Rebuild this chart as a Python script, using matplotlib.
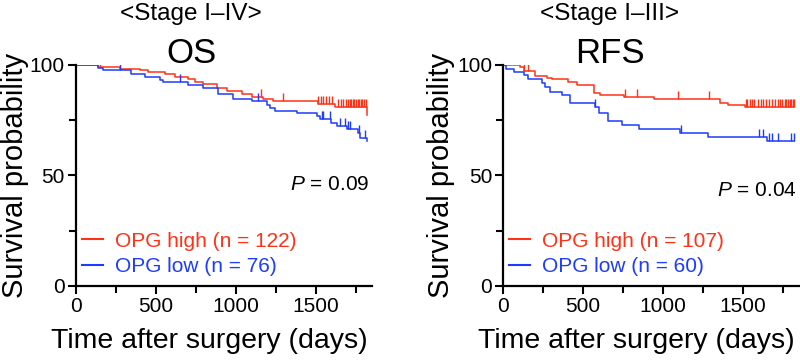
import numpy as np
from matplotlib import pyplot as plt
from matplotlib.ticker import MultipleLocator
from matplotlib.lines import Line2D

plt.rcParams['font.family'] = ['Liberation Sans', 'DejaVu Sans']
plt.rcParams['mathtext.fontset'] = 'custom'
plt.rcParams['mathtext.rm'] = 'Liberation Sans'
plt.rcParams['mathtext.it'] = 'Liberation Sans:italic'

red = '#ff3218'
blue = '#1e3cff'

# OS, stage I-IV  (step times in days, survival % after each step)
os_high_t = [0, 140, 275, 400, 450, 556, 619, 700, 744, 794, 881, 943, 1037, 1100, 1170, 1233, 1515, 1620, 1818]
os_high_s = [100, 99.2, 98.3, 97.7, 96.8, 95.8, 94.7, 93.5, 92.5, 91.2, 89.8, 88.0, 87.0, 85.6, 84.5, 83.7, 82.2, 81.2, 77.4]
os_high_cens = [108, 150, 1156, 1294, 1515, 1530, 1545, 1560, 1580, 1600, 1640, 1655, 1670, 1685, 1700,
                1710, 1720, 1730, 1740, 1750, 1760, 1770, 1780, 1790, 1800, 1810]
os_low_t = [0, 137, 170, 345, 431, 525, 545, 700, 794, 887, 981, 1100, 1192, 1212, 1244, 1380, 1505, 1525,
            1594, 1630, 1692, 1763, 1775, 1818]
os_low_s = [100, 98.6, 97.7, 95.9, 94.4, 93.2, 92.2, 90.8, 89.4, 87.0, 84.8, 83.7, 81.9, 80.7, 79.3, 78.1, 77.1,
            75.6, 73.9, 72.4, 70.9, 69.1, 67.1, 65.7]
os_low_cens = [275, 650, 1140, 1535, 1545, 1590, 1650, 1680, 1700, 1715, 1770, 1805]

# RFS, stage I-III
rfs_high_t = [0, 106, 127, 200, 273, 304, 408, 460, 565, 606, 752, 940, 1356, 1408, 1512]
rfs_high_s = [100, 99.2, 97.1, 95.0, 94.3, 93.5, 92.2, 90.8, 87.5, 86.3, 85.3, 84.5, 82.9, 81.9, 80.8]
rfs_high_cens = [127, 157, 763, 838, 1093, 1288, 1515, 1525, 1540, 1555, 1570, 1590, 1610, 1625, 1640, 1660,
                 1680, 1700, 1715, 1730, 1745, 1760, 1770, 1780, 1790, 1800, 1810, 1820]
rfs_low_t = [0, 20, 65, 127, 158, 242, 262, 294, 367, 419, 575, 596, 658, 742, 846, 1106, 1283, 1648]
rfs_low_s = [100, 98.3, 97.0, 95.5, 93.5, 91.7, 90.2, 87.9, 86.4, 82.9, 81.1, 78.1, 74.8, 72.9, 71.2, 69.1,
             67.3, 65.8]
rfs_low_cens = [575, 1110, 1600, 1625, 1660, 1680, 1720, 1800, 1815]

end_t = 1820


def km(ax, t, s, cens, color):
    tt = list(t) + [end_t]
    ss = list(s) + [s[-1]]
    ax.step(tt, ss, where='post', color=color, lw=1.1)
    idx = np.searchsorted(t, cens, side='right') - 1
    ax.plot(cens, np.array(s)[idx], ls='none', marker=2, ms=6, mew=1.0, color=color)


def style(ax, ylab_x):
    for side in ['top', 'right']:
        ax.spines[side].set_visible(False)
    for side in ['left', 'bottom']:
        ax.spines[side].set_linewidth(1.6)
    ax.set_xlim(0, 1850)
    ax.set_ylim(0, 100)
    ax.set_xticks([0, 500, 1000, 1500])
    ax.xaxis.set_minor_locator(MultipleLocator(250))
    ax.set_yticks([0, 50, 100])
    ax.yaxis.set_minor_locator(MultipleLocator(25))
    ax.tick_params(which='major', length=6, width=1.5, labelsize=15, pad=2)
    ax.tick_params(which='minor', length=5, width=1.5)
    ax.set_xlabel('Time after surgery (days)', fontsize=20.5)
    ax.xaxis.set_label_coords(0.45, -0.19)
    ax.set_ylabel('Survival probability', fontsize=21, va='center')
    ax.yaxis.set_label_coords(ylab_x, 0.5)


fig = plt.figure(figsize=[8, 3.61], dpi=100)
ax1 = fig.add_axes([0.095, 0.208, 0.37, 0.612])
ax2 = fig.add_axes([0.629, 0.208, 0.37, 0.612])

km(ax1, os_high_t, os_high_s, os_high_cens, red)
km(ax1, os_low_t, os_low_s, os_low_cens, blue)
km(ax2, rfs_high_t, rfs_high_s, rfs_high_cens, red)
km(ax2, rfs_low_t, rfs_low_s, rfs_low_cens, blue)

for ax, nh, nl, p, py, yx in [(ax1, 122, 76, '0.09', 0.457, -0.205), (ax2, 107, 60, '0.04', 0.434, -0.21)]:
    style(ax, yx)
    handles = [Line2D([], [], color=red, lw=1.5), Line2D([], [], color=blue, lw=1.5)]
    ax.legend(handles, [f'OPG high (n = {nh})', f'OPG low (n = {nl})'], loc='lower left',
              bbox_to_anchor=(0.02, 0.045), frameon=False, fontsize=15, handlelength=1.0,
              handletextpad=0.6, labelspacing=0.3, borderpad=0, borderaxespad=0,
              labelcolor='linecolor')
    ax.text(0.99, py, f'$P$ = {p}', transform=ax.transAxes, ha='right', va='center', fontsize=15)

fig.text(0.239, 0.962, '<Stage I\u2013IV>', ha='center', va='center', fontsize=17.5)
fig.text(0.239, 0.853, 'OS', ha='center', va='center', fontsize=25)
fig.text(0.762, 0.962, '<Stage I\u2013III>', ha='center', va='center', fontsize=17.5)
fig.text(0.762, 0.853, 'RFS', ha='center', va='center', fontsize=25)

plt.savefig('out.png', dpi=100)
